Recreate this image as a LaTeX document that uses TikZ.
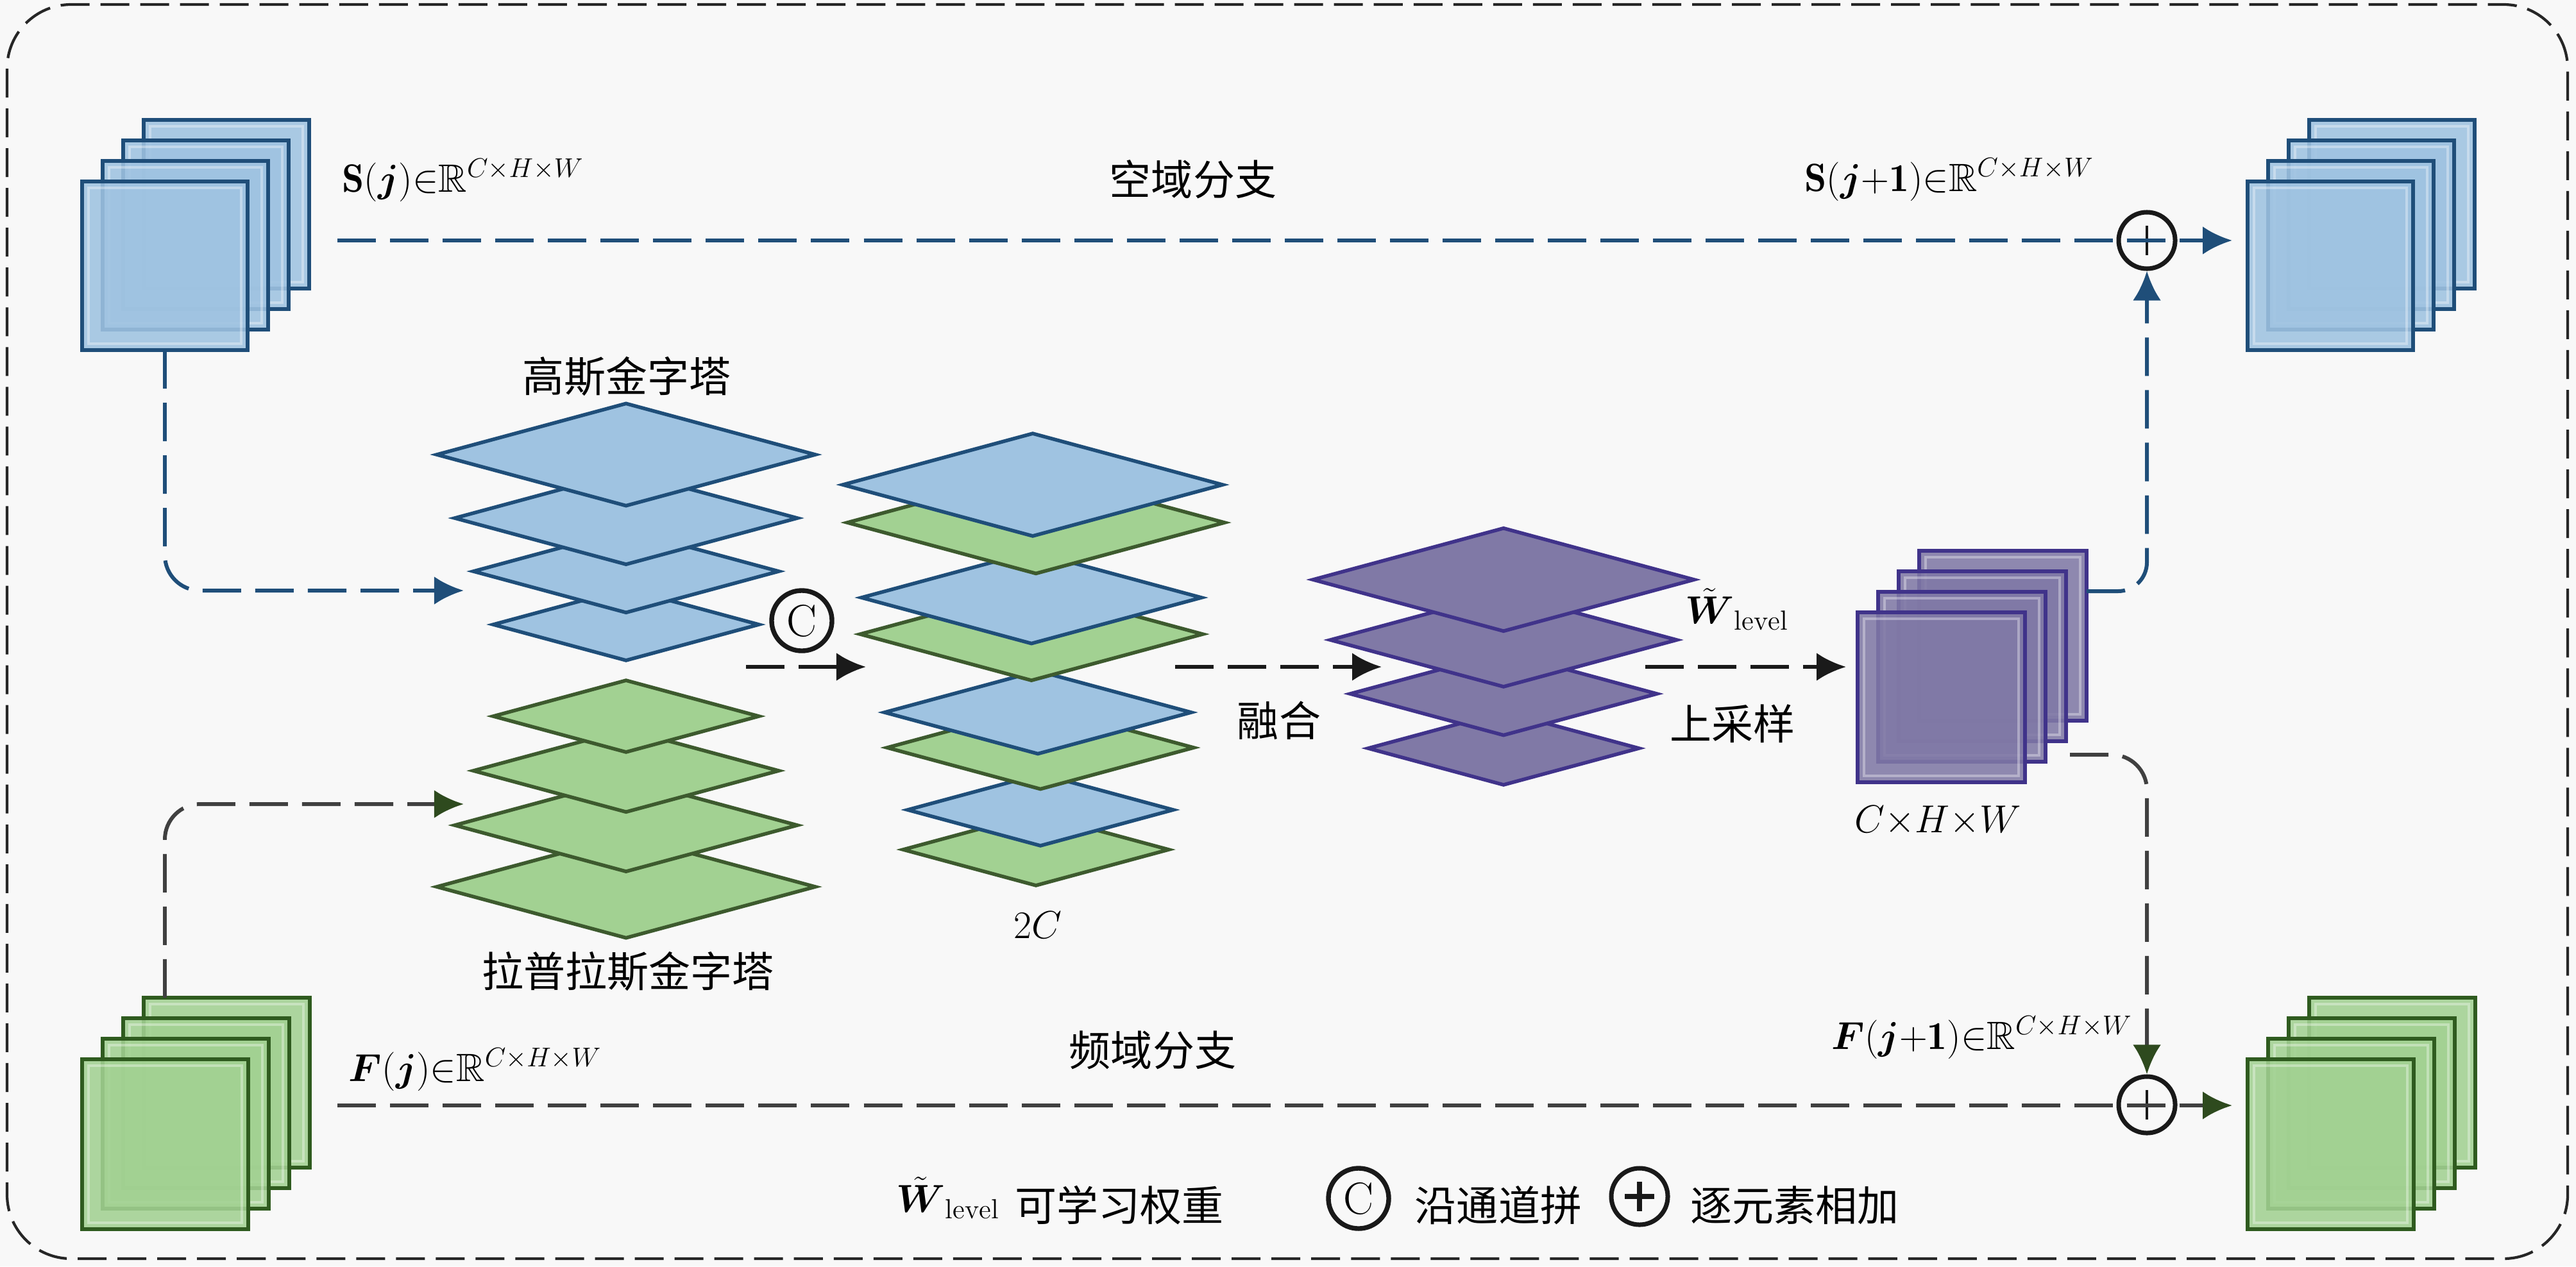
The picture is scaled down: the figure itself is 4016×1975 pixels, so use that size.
\documentclass[tikz,border=0pt]{standalone}
\usepackage{amsmath,amssymb}
\usepackage{fontspec}
\newfontfamily\cjk{Noto Sans CJK SC}
\usetikzlibrary{arrows.meta}
\definecolor{bgc}{HTML}{F8F8F8}
\definecolor{bfill}{HTML}{9FC3E1}
\definecolor{bline}{HTML}{1F4E79}
\definecolor{gfill}{HTML}{A2D192}
\definecolor{gline}{HTML}{2F5B1F}
\definecolor{gdiaedge}{HTML}{3D5A2E}
\definecolor{pfill}{HTML}{8079A6}
\definecolor{pline}{HTML}{40338A}
\definecolor{glink}{HTML}{404040}
\definecolor{garrow}{HTML}{2E4A1E}
\definecolor{klink}{HTML}{1A1A1A}
\tikzset{
  every node/.style={inner sep=0pt, font=\fontsize{18.5}{22}\selectfont},
  mathlbl/.style={font=\fontsize{17.5}{21}\selectfont},
  cjklbl/.style={font=\fontsize{18.5}{22}\selectfont\cjk},
  border/.style={draw=black!85, line width=1.2pt, dash pattern=on 0.45cm off 0.17cm, rounded corners=1cm},
  dlink/.style={line width=1.7pt, dash pattern=on 0.6cm off 0.22cm},
  bluelink/.style={dlink, draw=bline, -{Latex[length=0.46cm,width=0.44cm]}},
  greenlink/.style={dlink, draw=glink, -{Latex[length=0.46cm,width=0.44cm,color=garrow]}},
  blacklink/.style={dlink, draw=klink, -{Latex[length=0.46cm,width=0.44cm]}},
  bluerect/.style={fill=bfill, fill opacity=0.88, draw=bline, line width=1.7pt},
  greenrect/.style={fill=gfill, fill opacity=0.88, draw=gline, line width=1.7pt},
  purplerect/.style={fill=pfill, fill opacity=0.88, draw=pline, line width=1.7pt},
  innerline/.style={draw=white, draw opacity=0.35, line width=0.9pt},
  bdia/.style={fill=bfill, draw=bline, line width=1.6pt, line join=miter},
  gdia/.style={fill=gfill, draw=gdiaedge, line width=1.6pt, line join=miter},
  pdia/.style={fill=pfill, draw=pline, line width=1.6pt, line join=miter},
  plusc/.style={circle, draw=black!90, line width=2pt, minimum size=0.88cm,
    path picture={
      \draw[line width=#1] ([yshift=0.23cm]path picture bounding box.center) -- ([yshift=-0.23cm]path picture bounding box.center);
      \draw[line width=#1] ([xshift=0.23cm]path picture bounding box.center) -- ([xshift=-0.23cm]path picture bounding box.center);}},
  plusc/.default=1.3pt,
  catc/.style={circle, draw=black!90, line width=2.1pt, minimum size=0.94cm, font=\fontsize{20}{24}\selectfont}
}
\newcommand\dmd[4]{\filldraw[#4] ({#1-#3},#2) -- (#1,{#2-0.27*#3}) -- ({#1+#3},#2) -- (#1,{#2+0.27*#3}) -- cycle;}
\newcommand\stk[5]{%
  \foreach \i in {3,2,1,0} {
    \filldraw[#5] ({#1+32*\i},{#2-32*\i}) rectangle ++(#3,#4);
    \draw[innerline] ({#1+32*\i+10},{#2-32*\i+10}) rectangle ++({#3-20},{#4-20});
  }}
\begin{document}
\begin{tikzpicture}[x=0.01cm,y=-0.01cm]
\useasboundingbox (0,0) rectangle (4016,1975);
\fill[bgc] (0,0) rectangle (4016,1975);
\draw[border] (11,7) rectangle (4003,1963);

% feature stacks
\stk{128}{283}{258}{263}{bluerect}
\stk{3504}{283}{258}{263}{bluerect}
\stk{128}{1652}{259}{265}{greenrect}
\stk{3504}{1652}{259}{265}{greenrect}
\stk{2896}{955}{261}{265}{purplerect}

% Gaussian pyramid
\dmd{976}{974}{207}{bdia}
\dmd{976}{891}{238}{bdia}
\dmd{976}{808}{267}{bdia}
\dmd{976}{709}{295}{bdia}
% Laplacian pyramid
\dmd{976}{1383}{295}{gdia}
\dmd{976}{1287}{267}{gdia}
\dmd{976}{1202}{238}{gdia}
\dmd{976}{1117}{207}{gdia}
% concatenated 2C stack
\dmd{1615}{1325}{207}{gdia}
\dmd{1622}{1263}{207}{bdia}
\dmd{1622}{1166}{239}{gdia}
\dmd{1618}{1111}{239}{bdia}
\dmd{1608}{989}{267}{gdia}
\dmd{1608}{932}{265}{bdia}
\dmd{1615}{815}{294}{gdia}
\dmd{1610}{756}{296}{bdia}
% fused purple stack
\dmd{2344}{1167}{211}{pdia}
\dmd{2344}{1082}{239}{pdia}
\dmd{2344}{998}{270}{pdia}
\dmd{2344}{904}{297}{pdia}

% coordinates
\coordinate (sjbot) at (257,546);
\coordinate (gaussin) at (723,921);
\coordinate (fjtop) at (257,1556);
\coordinate (lapin) at (723,1254);
\coordinate (sjright) at (526,375);
\coordinate (sjnext) at (3480,375);
\coordinate (fjright) at (526,1724);
\coordinate (fjnext) at (3480,1724);
\coordinate (catfrom) at (1163,1040);
\coordinate (catto) at (1350,1040);
\coordinate (fusefrom) at (1832,1040);
\coordinate (fuseto) at (2154,1040);
\coordinate (upfrom) at (2565,1040);
\coordinate (upto) at (2878,1040);
\coordinate (pout1) at (3253,922);
\coordinate (pout2) at (3227,1177);

% operator circles
\node[plusc] (addS) at (3347,375) {};
\node[plusc] (addF) at (3347,1723) {};
\node[catc] (cat) at (1250,968) {C};

% connectors
\draw[bluelink] (sjright) -- (sjnext);
\draw[greenlink] (fjright) -- (fjnext);
\draw[bluelink, rounded corners=0.55cm] (sjbot) |- (gaussin);
\draw[greenlink, rounded corners=0.55cm] (fjtop) |- (lapin);
\draw[blacklink] (catfrom) -- (catto);
\draw[blacklink] (fusefrom) -- (fuseto);
\draw[blacklink] (upfrom) -- (upto);
\draw[bluelink, rounded corners=0.45cm] (pout1) -| (addS.south);
\draw[greenlink, rounded corners=0.55cm] (pout2) -| (addF.north);

% labels
\node[mathlbl, anchor=base] (tsj) at (722,299) {$\mathbf{S}(\boldsymbol{j}){\in}\mathbb{R}^{C{\times}H{\times}W}$};
\node[mathlbl, anchor=base] (tsj1) at (3039,298) {$\mathbf{S}(\boldsymbol{j}{+}\mathbf{1}){\in}\mathbb{R}^{C{\times}H{\times}W}$};
\node[mathlbl, anchor=base] (tfj) at (741,1686) {$\boldsymbol{F}(\boldsymbol{j}){\in}\mathbb{R}^{C{\times}H{\times}W}$};
\node[mathlbl, anchor=base] (tfj1) at (3090,1636) {$\boldsymbol{F}(\boldsymbol{j}{+}\mathbf{1}){\in}\mathbb{R}^{C{\times}H{\times}W}$};
\node[cjklbl] (tspat) at (1860,280) {空域分支};
\node[cjklbl] (tfreq) at (1797,1638) {频域分支};
\node[cjklbl] (tgauss) at (977,587) {高斯金字塔};
\node[cjklbl] (tlap) at (979,1515) {拉普拉斯金字塔};
\node[cjklbl] (tfuse) at (1994,1124) {融合};
\node[cjklbl] (tup) at (2701,1129) {上采样};
\node[mathlbl] (t2c) at (1618,1443) {$2C$};
\node[mathlbl] (tchw) at (3021,1280) {$C{\times}H{\times}W$};
\node[mathlbl] (tw) at (2708,950) {$\tilde{\boldsymbol{W}}_{\mathrm{level}}$};

% legend
\node[mathlbl] (lw) at (1478,1868) {$\tilde{\boldsymbol{W}}_{\mathrm{level}}$};
\node[cjklbl] (lwt) at (1745,1880) {可学习权重};
\node[catc] (lcat) at (2118,1869) {C};
\node[cjklbl] (lcatt) at (2336,1880) {沿通道拼};
\node[plusc=2.4pt] (ladd) at (2556,1866) {};
\node[cjklbl] (laddt) at (2798,1880) {逐元素相加};
\end{tikzpicture}
\end{document}
